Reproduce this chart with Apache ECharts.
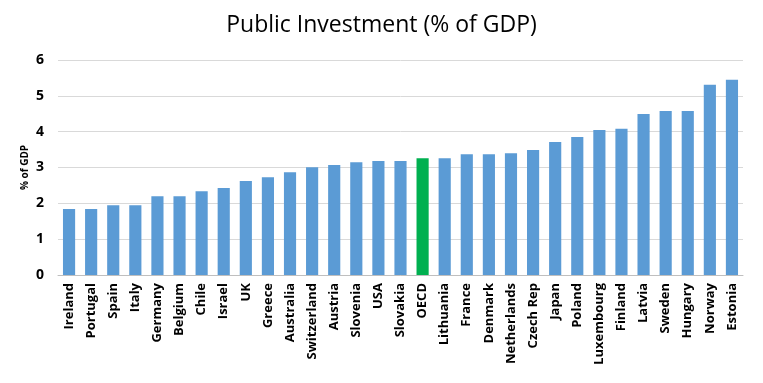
<!DOCTYPE html>
<html><head><meta charset="utf-8">
<script src="https://cdn.jsdelivr.net/npm/echarts@6/dist/echarts.min.js"></script>
<style>html,body{margin:0;padding:0;background:#fff}#c{width:763px;height:383px}</style>
</head><body><div id="c"></div>
<script>
var categories = ["Ireland","Portugal","Spain","Italy","Germany","Belgium","Chile","Israel","UK","Greece","Australia","Switzerland","Austria","Slovenia","USA","Slovakia","OECD","Lithuania","France","Denmark","Netherlands","Czech Rep","Japan","Poland","Luxembourg","Finland","Latvia","Sweden","Hungary","Norway","Estonia"];
var values = [1.84,1.84,1.95,1.95,2.20,2.20,2.34,2.43,2.62,2.73,2.87,3.01,3.07,3.15,3.18,3.18,3.26,3.26,3.37,3.37,3.40,3.49,3.71,3.85,4.05,4.08,4.49,4.58,4.58,5.31,5.45];
var highlight = "OECD";
var yTicks = {min:0, max:6, interval:1};

var chart = echarts.init(document.getElementById('c'), null, {renderer:'canvas'});
chart.setOption({
  animation:false,
  title:{text:'Public Investment (% of GDP)', left:'center', top:9,
    textStyle:{fontFamily:'Open Sans', fontWeight:'normal', fontSize:23, color:'#000'}},
  grid:{left:58, right:20, top:60, bottom:108},
  xAxis:{type:'category', data:categories,
    axisLine:{lineStyle:{color:'#bfbfbf'}}, axisTick:{show:false},
    axisLabel:{rotate:90, interval:0, fontFamily:'Open Sans', fontWeight:'bold', fontSize:13, color:'#000', margin:8}},
  yAxis:{type:'value', min:yTicks.min, max:yTicks.max, interval:yTicks.interval,
    name:'% of GDP', nameLocation:'middle', nameGap:28, nameRotate:90, nameMoveOverlap:false,
    nameTextStyle:{fontFamily:'Open Sans', fontWeight:'bold', fontSize:10, color:'#000'},
    axisLine:{show:false}, axisTick:{show:false},
    axisLabel:{fontFamily:'Open Sans', fontWeight:'bold', fontSize:14, color:'#000', margin:14},
    splitLine:{lineStyle:{color:'#d9d9d9'}}},
  series:[{type:'bar', barCategoryGap:'45%',
    data:values.map(function(v,i){return {value:v, itemStyle:{color: categories[i]===highlight?'#00b050':'#5b9bd5'}};})}]
});
</script></body></html>
